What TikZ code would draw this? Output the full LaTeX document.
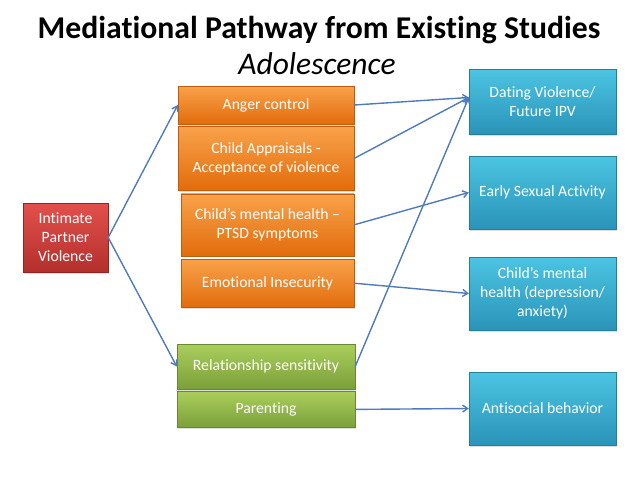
\documentclass[tikz,border=0pt]{standalone}
\usepackage{fontspec}
\setmainfont[Ligatures=NoCommon]{Carlito}
\usepackage{xcolor}
\usetikzlibrary{arrows.meta, positioning, shadows}

\definecolor{ipvtop}{HTML}{E2504C}
\definecolor{ipvbot}{HTML}{B3302C}
\definecolor{medtop}{HTML}{F9A24A}
\definecolor{medbot}{HTML}{E26C0C}
\definecolor{partop}{HTML}{AACE5C}
\definecolor{parbot}{HTML}{7BA03A}
\definecolor{outtop}{HTML}{4CC4E2}
\definecolor{outbot}{HTML}{2A94B8}
\definecolor{pathline}{HTML}{4F7BBE}

\begin{document}
\begin{tikzpicture}[
    x=1pt, y=-1pt,
    base/.style={draw, rectangle, align=center, text=white, font=\fontsize{15.7}{19}\selectfont, inner sep=2pt,
        drop shadow={opacity=0.25, shadow xshift=1pt, shadow yshift=-1.5pt}},
    ipvbox/.style={base, draw=ipvbot!80!black, top color=ipvtop, bottom color=ipvbot, minimum width=85pt, minimum height=69pt},
    medbox/.style={base, draw=medbot!85!black, top color=medtop, bottom color=medbot, minimum width=176pt},
    parbox/.style={base, draw=parbot!85!black, top color=partop, bottom color=parbot, minimum width=178pt},
    outbox/.style={base, draw=outbot!85!black, top color=outtop, bottom color=outbot, minimum width=147pt, minimum height=72pt},
    arrow/.style={draw=pathline, line width=1.4pt, -{Straight Barb[length=5pt, width=7pt]}}
]
\useasboundingbox (0,0) rectangle (638,479);

% title
\node[font=\fontsize{31.7}{36}\selectfont\bfseries] (title) at (319,30) {Mediational Pathway from Existing Studies};
\node[font=\fontsize{31.5}{36}\selectfont\itshape] (subtitle) at (317,64) {Adolescence};

% exposure
\node[ipvbox] (ipv) at (65.5,237.5) {Intimate\\Partner\\Violence};

% mediators
\node[medbox, minimum height=38pt] (anger) at (266,105) {Anger control};
\node[medbox, minimum height=64pt, below=2pt of anger] (apprais) {Child Appraisals -\\Acceptance of violence};
\node[medbox, minimum height=62pt, minimum width=173pt, below=3pt of apprais.south east, anchor=north east] (ptsd) {Child’s mental health –\\PTSD symptoms};
\node[medbox, minimum height=48pt, minimum width=173pt, below=3pt of ptsd] (insecure) {Emotional Insecurity};
\node[parbox, minimum height=45pt] (relsens) at (266,366.5) {Relationship sensitivity};
\node[parbox, minimum height=36pt, below=2pt of relsens] (parent) {Parenting};

% outcomes
\node[outbox, minimum height=65pt] (dating) at (542.5,101.5) {Dating Violence/\\Future IPV};
\node[outbox, minimum height=73pt] (sexual) at (542.5,192.5) {Early Sexual Activity};
\node[outbox, minimum height=73pt] (mental) at (542.5,293.5) {Child’s mental\\health (depression/\\anxiety)};
\node[outbox, minimum height=73pt] (antisoc) at (542.5,408.5) {Antisocial behavior};

% pathways
\coordinate (datingin) at ([yshift=4pt]dating.west);
\foreach \a/\b in {ipv.east/anger.west, ipv.east/relsens.west, anger.east/datingin, apprais.east/datingin,
                   relsens.east/datingin, ptsd.east/sexual.west, insecure.east/mental.west, parent.east/antisoc.west}
  \draw[arrow] (\a) -- (\b);
\end{tikzpicture}
\end{document}
